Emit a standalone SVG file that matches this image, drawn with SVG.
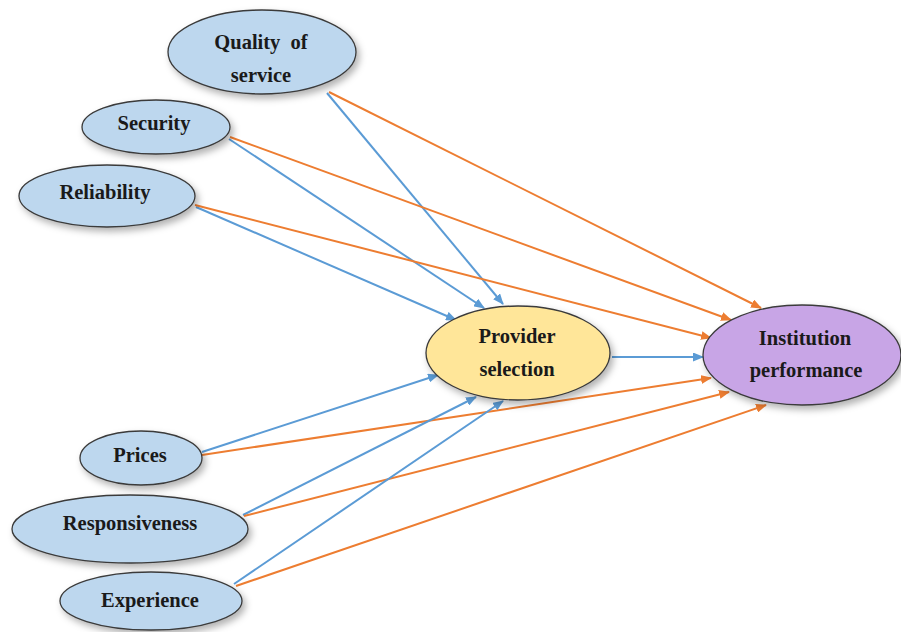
<svg xmlns="http://www.w3.org/2000/svg" width="901" height="632" viewBox="0 0 901 632">
<style>
.n{stroke:#3a3a3a;stroke-width:1.3}
.b{fill:#bdd7ee}
.y{fill:#ffe699}
.p{fill:#c8a5e6}
.t{font-family:"Liberation Serif","Times New Roman",serif;font-weight:bold;font-size:20.5px;fill:#1a1a1a;text-anchor:middle}
.cb{stroke:#5b9bd5;stroke-width:2;fill:none;marker-end:url(#ab)}
.co{stroke:#ed7d31;stroke-width:2;fill:none;marker-end:url(#ao)}
</style>
<defs>
<filter id="sh" x="-20%" y="-20%" width="150%" height="160%">
<feDropShadow dx="3" dy="4" stdDeviation="3.5" flood-color="#000" flood-opacity="0.3"/>
</filter>
<marker id="ab" markerWidth="11" markerHeight="9" refX="10" refY="4.5" orient="auto" markerUnits="userSpaceOnUse"><path d="M0,0 L11,4.5 L0,9 z" fill="#5b9bd5"/></marker>
<marker id="ao" markerWidth="11" markerHeight="9" refX="10" refY="4.5" orient="auto" markerUnits="userSpaceOnUse"><path d="M0,0 L11,4.5 L0,9 z" fill="#ed7d31"/></marker>
</defs>
<rect width="901" height="632" fill="#ffffff"/>
<g id="connectors">
<line class="cb" x1="327" y1="93" x2="503" y2="304"/>
<line class="co" x1="329" y1="92" x2="761" y2="308"/>
<line class="cb" x1="229" y1="139" x2="484" y2="308"/>
<line class="co" x1="230" y1="137" x2="731" y2="320"/>
<line class="cb" x1="196" y1="207" x2="456" y2="320"/>
<line class="co" x1="195" y1="205" x2="711" y2="338"/>
<line class="cb" x1="202" y1="452" x2="438" y2="375"/>
<line class="co" x1="202" y1="455" x2="711" y2="378"/>
<line class="cb" x1="243" y1="515" x2="476" y2="397"/>
<line class="co" x1="244" y1="516" x2="729" y2="392"/>
<line class="cb" x1="234" y1="584" x2="503" y2="401"/>
<line class="co" x1="236" y1="586" x2="766" y2="405"/>
<line class="cb" x1="612" y1="357" x2="703" y2="357"/>
</g>
<g id="quality">
<ellipse class="n b" cx="262" cy="52" rx="94" ry="42" filter="url(#sh)"/>
<text class="t" x="261" y="49" xml:space="preserve">Quality  of</text>
<text class="t" x="261" y="82">service</text>
</g>
<g id="security">
<ellipse class="n b" cx="156" cy="127" rx="74" ry="27" filter="url(#sh)"/>
<text class="t" x="154" y="130">Security</text>
</g>
<g id="reliability">
<ellipse class="n b" cx="107" cy="196" rx="88" ry="31" filter="url(#sh)"/>
<text class="t" x="105" y="199">Reliability</text>
</g>
<g id="prices">
<ellipse class="n b" cx="141" cy="458" rx="61" ry="27" filter="url(#sh)"/>
<text class="t" x="140" y="462">Prices</text>
</g>
<g id="responsiveness">
<ellipse class="n b" cx="130" cy="529" rx="118" ry="34" filter="url(#sh)"/>
<text class="t" x="130" y="530">Responsiveness</text>
</g>
<g id="experience">
<ellipse class="n b" cx="151" cy="601" rx="91" ry="29" filter="url(#sh)"/>
<text class="t" x="150" y="607">Experience</text>
</g>
<g id="provider">
<ellipse class="n y" cx="518" cy="353" rx="92" ry="47" filter="url(#sh)"/>
<text class="t" x="517" y="343">Provider</text>
<text class="t" x="517" y="376">selection</text>
</g>
<g id="institution">
<ellipse class="n p" cx="802" cy="355" rx="99" ry="50" filter="url(#sh)"/>
<text class="t" x="805" y="345">Institution</text>
<text class="t" x="806" y="377">performance</text>
</g>
</svg>
